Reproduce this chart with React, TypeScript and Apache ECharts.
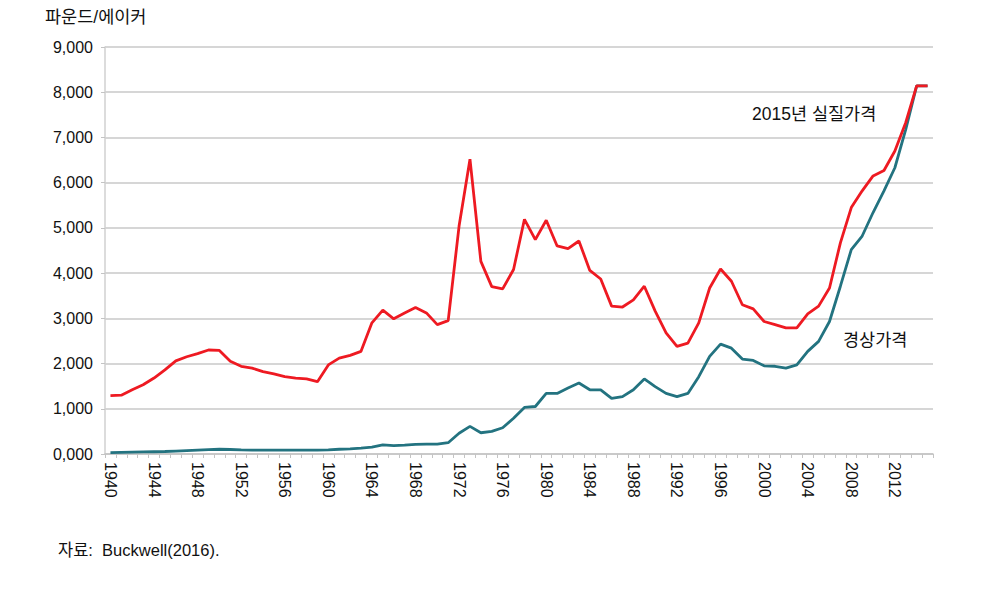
import React, { useEffect, useRef } from "react";
import * as echarts from "echarts";

const years: string[] = [];
for (let y = 1940; y <= 2015; y++) years.push(String(y));

// 2015년 실질가격 (real price, 2015 terms), pounds/acre
const realPrice = [
  1290, 1300, 1420, 1530, 1680, 1860, 2060, 2150, 2220, 2300,
  2290, 2050, 1940, 1900, 1820, 1770, 1710, 1680, 1660, 1600,
  1970, 2120, 2180, 2270, 2900, 3180, 2990, 3120, 3240, 3120,
  2860, 2950, 5040, 6520, 4260, 3700, 3650, 4080, 5190, 4740,
  5170, 4600, 4540, 4710, 4060, 3870, 3270, 3250, 3410, 3710,
  3160, 2680, 2380, 2450, 2900, 3670, 4090, 3820, 3300, 3210,
  2930, 2860, 2790, 2790, 3100, 3270, 3670, 4670, 5450, 5820,
  6150, 6270, 6700, 7330, 8140, 8140,
];

// 경상가격 (nominal price), pounds/acre
const nominalPrice = [
  30, 35, 40, 45, 50, 55, 65, 75, 85, 95,
  105, 100, 90, 85, 85, 85, 85, 85, 85, 85,
  90, 105, 115, 130, 150, 200, 185, 195, 215, 220,
  220, 250, 460, 610, 470, 500, 580, 790, 1030, 1050,
  1340, 1340, 1460, 1570, 1420, 1420, 1230, 1270, 1420, 1660,
  1490, 1340, 1270, 1340, 1710, 2160, 2430, 2340, 2100, 2070,
  1950, 1940, 1900, 1970, 2270, 2490, 2930, 3710, 4520, 4820,
  5340, 5820, 6330, 7180, 8140, 8140,
];

const FONT = "'Liberation Sans', Arial, 'Noto Sans CJK KR', sans-serif";

export default function App() {
  const ref = useRef<HTMLDivElement>(null);
  useEffect(() => {
    if (!ref.current) return;
    const chart = echarts.init(ref.current, undefined, { renderer: "svg" });
    chart.setOption({
      animation: false,
      backgroundColor: "#ffffff",
      textStyle: { fontFamily: FONT },
      grid: { left: 105, right: 57, top: 47, bottom: 137, containLabel: false },
      xAxis: {
        type: "category",
        data: years,
        boundaryGap: true,
        axisLine: { show: true, lineStyle: { color: "#c4c4c4", width: 1.5 } },
        axisTick: { show: true, interval: 0, length: 4, lineStyle: { color: "#c4c4c4" } },
        axisLabel: {
          interval: 3,
          rotate: -90,
          fontSize: 16,
          color: "#111",
          fontFamily: FONT,
          margin: 8,
        },
        splitLine: { show: false },
      },
      yAxis: {
        type: "value",
        min: 0,
        max: 9000,
        interval: 1000,
        axisLine: { show: true, lineStyle: { color: "#d0d0d0", width: 1.5 } },
        axisTick: { show: true, length: 4, lineStyle: { color: "#c4c4c4" } },
        axisLabel: {
          fontSize: 16,
          color: "#111",
          fontFamily: FONT,
          margin: 12,
          formatter: (v: number) => `${Math.round(v / 1000)},000`,
        },
        splitLine: { show: true, lineStyle: { color: "#c8c8c8", width: 1.5 } },
      },
      series: [
        {
          name: "경상가격",
          type: "line",
          data: nominalPrice,
          symbol: "none",
          lineStyle: { color: "#237380", width: 2.8 },
          itemStyle: { color: "#237380" },
          z: 2,
        },
        {
          name: "2015년 실질가격",
          type: "line",
          data: realPrice,
          symbol: "none",
          lineStyle: { color: "#ee1a22", width: 2.8 },
          itemStyle: { color: "#ee1a22" },
          z: 3,
        },
      ],
      graphic: [
        {
          type: "text",
          left: 45,
          top: 8,
          style: { text: "파운드/에이커", fontSize: 17.5, fill: "#111", fontFamily: FONT },
        },
        {
          type: "text",
          left: 752,
          top: 105,
          style: { text: "2015년 실질가격", fontSize: 17.5, fill: "#111", fontFamily: FONT },
        },
        {
          type: "text",
          left: 843,
          top: 331,
          style: { text: "경상가격", fontSize: 17.5, fill: "#111", fontFamily: FONT },
        },
        {
          type: "text",
          left: 58,
          top: 542,
          style: { text: "자료:  Buckwell(2016).", fontSize: 16.5, fill: "#111", fontFamily: FONT },
        },
      ],
    });
    return () => chart.dispose();
  }, []);
  return (
    <div
      ref={ref}
      style={{ position: "fixed", left: 0, top: 0, width: 990, height: 591, background: "#fff" }}
    />
  );
}
